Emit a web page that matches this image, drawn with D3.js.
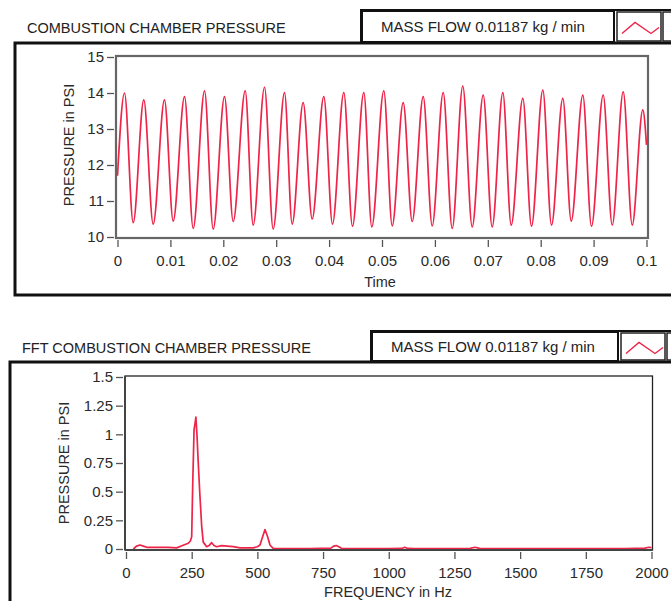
<!DOCTYPE html>
<html><head><meta charset="utf-8">
<script src="https://cdn.jsdelivr.net/npm/d3@7/dist/d3.min.js"></script>
<style>html,body{margin:0;padding:0;background:#fff;overflow:hidden}svg{display:block;font-family:"Liberation Sans",Arial,sans-serif}</style>
</head><body><svg id="c" width="671" height="601"></svg>
<script>
// ---- Top chart data: time (s) vs pressure (PSI), read at extrema ----
const timeS = [0, 0.00132, 0.00297, 0.00497, 0.00675, 0.00888, 0.01053, 0.01267, 0.01431, 0.01645, 0.01809,
  0.02023, 0.02187, 0.02414, 0.02565, 0.02779, 0.02943, 0.03157, 0.03302, 0.03510, 0.03680, 0.03900, 0.04064,
  0.04278, 0.04442, 0.04656, 0.04807, 0.05034, 0.05193, 0.05401, 0.05571, 0.05779, 0.05949, 0.06157, 0.06327,
  0.06527, 0.06705, 0.06913, 0.07083, 0.07284, 0.07442, 0.07662, 0.07826, 0.08040, 0.08204, 0.08418, 0.08577,
  0.08796, 0.08960, 0.09181, 0.09352, 0.09560, 0.09730, 0.09930, 0.1];
const pressurePSI = [11.7, 14.00, 10.40, 13.81, 10.36, 13.81, 10.44, 13.90, 10.24, 14.06, 10.22,
  13.90, 10.43, 14.06, 10.33, 14.16, 10.22, 14.01, 10.36, 13.73, 10.50, 13.90, 10.36,
  14.01, 10.30, 14.01, 10.28, 14.06, 10.31, 13.73, 10.43, 13.90, 10.31, 14.01, 10.24,
  14.19, 10.28, 13.94, 10.28, 14.01, 10.33, 13.85, 10.30, 14.08, 10.33, 13.85, 10.44,
  13.94, 10.30, 13.94, 10.33, 14.03, 10.33, 13.53, 12.56];
const timeTicks = [0, 0.01, 0.02, 0.03, 0.04, 0.05, 0.06, 0.07, 0.08, 0.09, 0.1];
const timeTickLabels = ["0", "0.01", "0.02", "0.03", "0.04", "0.05", "0.06", "0.07", "0.08", "0.09", "0.1"];
const pressTicks = [10, 11, 12, 13, 14, 15];

// ---- Bottom chart data: FFT frequency (Hz) vs amplitude (PSI) ----
const freqHz = [28, 40, 53, 66, 79, 100, 130, 160, 193, 215, 237, 245, 250, 254, 259, 263, 266, 270, 275, 281,
  288, 294, 307, 316, 326, 335, 345, 364, 385, 408, 434, 460, 484, 500, 510, 520, 529, 539, 548, 560, 600, 700,
  780, 790, 800, 810, 820, 900, 1000, 1050, 1061, 1072, 1100, 1200, 1310, 1328, 1346, 1400, 1500, 1600, 1700,
  1800, 1900, 1975, 1990, 2000];
const fftPSI = [0, 0.025, 0.035, 0.025, 0.015, 0.015, 0.015, 0.015, 0.01, 0.03, 0.05, 0.07, 0.107, 0.57, 1.04, 1.10,
  1.15, 1.0, 0.75, 0.48, 0.2, 0.06, 0.02, 0.03, 0.055, 0.03, 0.02, 0.03, 0.025, 0.02, 0.01, 0.01, 0.01, 0.02, 0.035,
  0.107, 0.17, 0.107, 0.035, 0.005, 0.004, 0.004, 0.008, 0.025, 0.03, 0.02, 0.006, 0.004, 0.004, 0.005, 0.015, 0.005,
  0.004, 0.004, 0.005, 0.015, 0.005, 0.004, 0.004, 0.004, 0.004, 0.004, 0.004, 0.008, 0.015, 0.012];
const freqTicks = [0, 250, 500, 750, 1000, 1250, 1500, 1750, 2000];
const fftTicks = [0, 0.25, 0.5, 0.75, 1, 1.25, 1.5];
const fftTickLabels = ["0", "0.25", "0.5", "0.75", "1", "1.25", "1.5"];

const legendLabel = "MASS FLOW 0.01187 kg / min";

const svg = d3.select("#c");
const RED = "#ee2448";
const TXT = "#2a2a2a";

function panel(o) {
  svg.append("rect").attr("x", o.px).attr("y", o.py).attr("width", 720).attr("height", o.ph)
    .attr("fill", "none").attr("stroke", "#111").attr("stroke-width", 3);
  svg.append("text").attr("x", o.tx).attr("y", o.ty).attr("font-size", 14.5).attr("fill", "#222").text(o.title);
  const lg = svg.append("g");
  lg.append("rect").attr("x", o.lx).attr("y", o.ly).attr("width", o.lw).attr("height", o.lh)
    .attr("fill", "#fff").attr("stroke", "#111").attr("stroke-width", 2);
  lg.append("rect").attr("x", o.lx + o.lw + 3).attr("y", o.ly + 1).attr("width", o.sw).attr("height", o.lh - 2)
    .attr("fill", "#fff").attr("stroke", "#222").attr("stroke-width", 1.5);
  lg.append("rect").attr("x", o.lx + o.lw + o.sw + 5).attr("y", o.ly + 1).attr("width", 40).attr("height", o.lh - 2)
    .attr("fill", "#fff").attr("stroke", "#222").attr("stroke-width", 1.5);
  lg.append("rect").attr("x", o.lx - 1).attr("y", o.ly - 1).attr("width", 400).attr("height", o.lh + 2)
    .attr("fill", "none").attr("stroke", "#111").attr("stroke-width", 2);
  lg.append("text").attr("x", o.ltx).attr("y", o.ly + o.lh / 2 + 5)
    .attr("font-size", 15).attr("fill", "#222").text(legendLabel);
  const sx = o.lx + o.lw + 3, sy = o.ly + o.lh / 2;
  lg.append("polyline").attr("fill", "none").attr("stroke", RED).attr("stroke-width", 1.4)
    .attr("points", [[sx + 5, sy + 7], [sx + 18, sy - 4], [sx + 34, sy + 7], [sx + 42, sy + 1]].map(p => p.join(",")).join(" "));

  svg.append("rect").attr("x", o.fx0).attr("y", o.fy0).attr("width", o.fx1 - o.fx0).attr("height", o.fy1 - o.fy0)
    .attr("fill", "#fff").attr("stroke", o.frameColor).attr("stroke-width", o.frameW);

  const x = o.x, y = o.y;
  const line = d3.line().x(d => x(d[0])).y(d => y(d[1])).curve(o.curve);
  svg.append("path").datum(d3.zip(o.xs, o.ys)).attr("fill", "none").attr("stroke", RED)
    .attr("stroke-width", 1.7).attr("stroke-linejoin", "round").attr("d", line);

  if (o.axisDark) {
    svg.append("line").attr("x1", o.fx0).attr("x2", o.fx0).attr("y1", o.fy0).attr("y2", o.fy1)
      .attr("stroke", "#444").attr("stroke-width", 2);
    svg.append("line").attr("x1", o.fx0).attr("x2", o.fx1).attr("y1", o.fy1).attr("y2", o.fy1)
      .attr("stroke", "#444").attr("stroke-width", 2);
  }

  const ya = d3.axisLeft(y).tickValues(o.yt).tickSize(7).tickPadding(3).tickFormat((d, i) => o.ytl[i]);
  const gy = svg.append("g").attr("transform", `translate(${o.fx0 - 2},0)`).call(ya);
  gy.select(".domain").remove();
  const xa = d3.axisBottom(x).tickValues(o.xt).tickSize(7).tickPadding(8).tickFormat((d, i) => o.xtl[i]);
  const gx = svg.append("g").attr("transform", `translate(0,${o.fy1 + 2})`).call(xa);
  gx.select(".domain").remove();
  [gx, gy].forEach(g => {
    g.selectAll("text").attr("font-size", 15).attr("fill", TXT).attr("font-family", "Liberation Sans, Arial, sans-serif");
    g.selectAll("line").attr("stroke", "#555").attr("stroke-width", 1.3);
  });
  svg.append("text").attr("x", o.xlx).attr("y", o.xly).attr("text-anchor", "middle").attr("font-size", 14.5)
    .attr("fill", TXT).text(o.xlabel);
  svg.append("text").attr("transform", `translate(${o.ylx},${o.yly}) rotate(-90)`).attr("text-anchor", "middle")
    .attr("font-size", 14.5).attr("fill", TXT).text("PRESSURE in PSI");
}

panel({
  px: 15, py: 43, ph: 252, tx: 27, ty: 33, title: "COMBUSTION CHAMBER PRESSURE",
  lx: 362, ly: 11, lw: 252, lh: 31, sw: 44, ltx: 381,
  fx0: 116, fx1: 648, fy0: 56, fy1: 238, frameColor: "#666", frameW: 2.2, axisDark: false,
  x: d3.scaleLinear().domain([0, 0.1]).range([117.5, 646.5]),
  y: d3.scaleLinear().domain([10, 15]).range([237, 57]),
  xs: timeS, ys: pressurePSI, curve: d3.curveMonotoneX,
  yt: pressTicks, ytl: pressTicks.map(String), xt: timeTicks, xtl: timeTickLabels,
  xlabel: "Time", xlx: 380, xly: 287, ylx: 74, yly: 145
});

panel({
  px: 10, py: 362, ph: 300, tx: 22, ty: 353, title: "FFT COMBUSTION CHAMBER PRESSURE",
  lx: 372, ly: 332, lw: 246, lh: 29, sw: 44, ltx: 391,
  fx0: 125, fx1: 652.5, fy0: 376, fy1: 550, frameColor: "#222", frameW: 1.3, axisDark: true,
  x: d3.scaleLinear().domain([0, 2000]).range([126, 651.5]),
  y: d3.scaleLinear().domain([0, 1.5]).range([549, 377]),
  xs: freqHz, ys: fftPSI, curve: d3.curveLinear,
  yt: fftTicks, ytl: fftTickLabels, xt: freqTicks, xtl: freqTicks.map(String),
  xlabel: "FREQUENCY in Hz", xlx: 388, xly: 597, ylx: 69, yly: 463
});
</script></body></html>
